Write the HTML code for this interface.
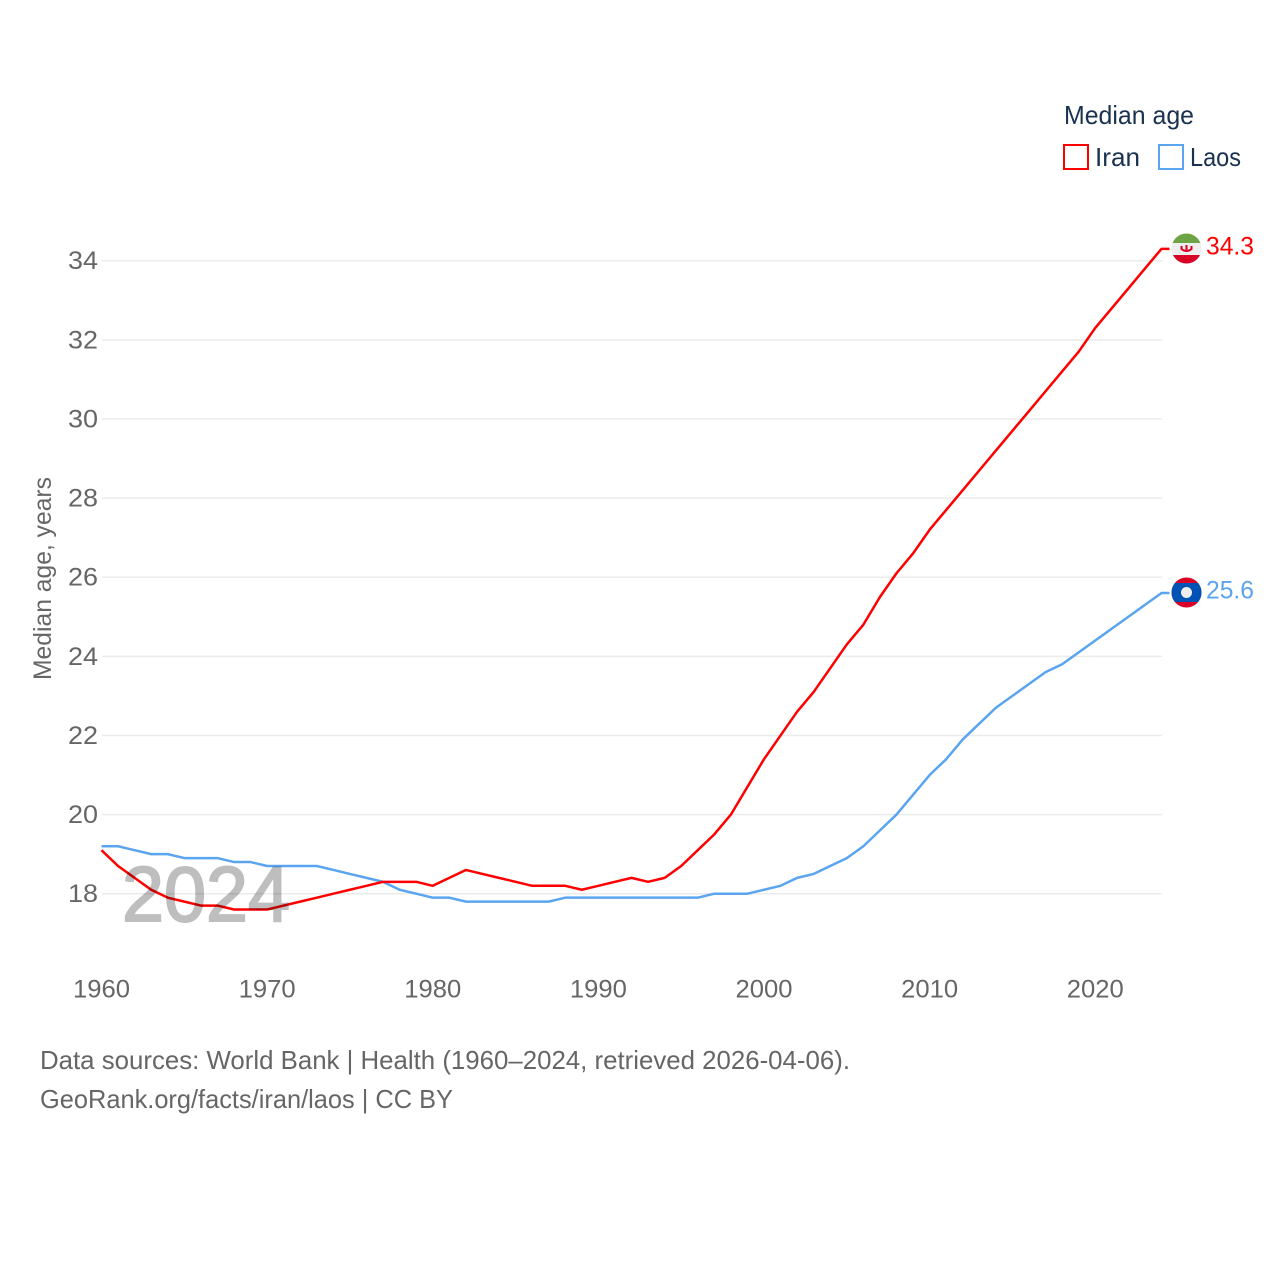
<!DOCTYPE html>
<html lang="en">
<head>
<meta charset="utf-8">
<title>Median age: Iran and Laos</title>
<style>
html,body{margin:0;padding:0;background:#fff;}
svg{display:block;}
text{font-family:"Liberation Sans",sans-serif;}
</style>
</head>
<body>
<svg id="chart" xmlns="http://www.w3.org/2000/svg" width="1280" height="1280" viewBox="0 0 1280 1280">
<g id="grid"></g>
<g id="ylabels"></g>
<g id="xlabels"></g>
<text transform="translate(51,680) rotate(-90)" font-size="25" fill="#666" textLength="203" lengthAdjust="spacingAndGlyphs">Median age, years</text>
<g id="series"></g>
<text x="206" y="921" font-size="78" text-anchor="middle" fill="#000" stroke="#000" stroke-width="2" opacity="0.25" textLength="168" lengthAdjust="spacingAndGlyphs">2024</text>
<g id="ends"></g>
<g>
<text x="1064" y="124" font-size="26" fill="#1a3250" textLength="130" lengthAdjust="spacingAndGlyphs">Median age</text>
<g>
<rect x="1064" y="145" width="24" height="24" fill="#fff" stroke="#ff0000" stroke-width="2"/>
<text x="1095" y="166" font-size="26" fill="#1a3250" textLength="45" lengthAdjust="spacingAndGlyphs">Iran</text>
</g>
<g>
<rect x="1159" y="145" width="24" height="24" fill="#fff" stroke="#5ba4f0" stroke-width="2"/>
<text x="1190" y="166" font-size="26" fill="#1a3250" textLength="51" lengthAdjust="spacingAndGlyphs">Laos</text>
</g>
</g>
<g>
<clipPath id="clipIran"><circle cx="1186.5" cy="248.5" r="15"/></clipPath>
<g clip-path="url(#clipIran)">
<rect x="1171" y="233" width="31" height="31" fill="#eeeeee"/>
<rect x="1171" y="233" width="31" height="10" fill="#6da544"/>
<rect x="1171" y="255" width="31" height="10" fill="#d80027"/>
<path d="M1181.5 246 v3 q5 4 10 0 v-3 M1186.5 245 v7" fill="none" stroke="#d80027" stroke-width="2"/>
</g>
</g>
<g>
<clipPath id="clipLaos"><circle cx="1186.5" cy="592.5" r="15"/></clipPath>
<g clip-path="url(#clipLaos)">
<rect x="1171" y="577" width="31" height="31" fill="#d80027"/>
<rect x="1171" y="583" width="31" height="19" fill="#0052b4"/>
<circle cx="1186.5" cy="592.5" r="5.5" fill="#eeeeee"/>
</g>
</g>
<text x="40" y="1069" font-size="26" fill="#666" textLength="810" lengthAdjust="spacingAndGlyphs">Data sources: World Bank | Health (1960–2024, retrieved 2026-04-06).</text>
<text x="40" y="1108" font-size="26" fill="#666" textLength="413" lengthAdjust="spacingAndGlyphs">GeoRank.org/facts/iran/laos | CC BY</text>
</svg>
<script>
const years = [1960,1961,1962,1963,1964,1965,1966,1967,1968,1969,1970,1971,1972,1973,1974,1975,1976,1977,1978,1979,1980,1981,1982,1983,1984,1985,1986,1987,1988,1989,1990,1991,1992,1993,1994,1995,1996,1997,1998,1999,2000,2001,2002,2003,2004,2005,2006,2007,2008,2009,2010,2011,2012,2013,2014,2015,2016,2017,2018,2019,2020,2021,2022,2023,2024];
const iran = [19.1,18.7,18.4,18.1,17.9,17.8,17.7,17.7,17.6,17.6,17.6,17.7,17.8,17.9,18.0,18.1,18.2,18.3,18.3,18.3,18.2,18.4,18.6,18.5,18.4,18.3,18.2,18.2,18.2,18.1,18.2,18.3,18.4,18.3,18.4,18.7,19.1,19.5,20.0,20.7,21.4,22.0,22.6,23.1,23.7,24.3,24.8,25.5,26.1,26.6,27.2,27.7,28.2,28.7,29.2,29.7,30.2,30.7,31.2,31.7,32.3,32.8,33.3,33.8,34.3];
const laos = [19.2,19.2,19.1,19.0,19.0,18.9,18.9,18.9,18.8,18.8,18.7,18.7,18.7,18.7,18.6,18.5,18.4,18.3,18.1,18.0,17.9,17.9,17.8,17.8,17.8,17.8,17.8,17.8,17.9,17.9,17.9,17.9,17.9,17.9,17.9,17.9,17.9,18.0,18.0,18.0,18.1,18.2,18.4,18.5,18.7,18.9,19.2,19.6,20.0,20.5,21.0,21.4,21.9,22.3,22.7,23.0,23.3,23.6,23.8,24.1,24.4,24.7,25.0,25.3,25.6];
const yTicks = [18,20,22,24,26,28,30,32,34];
const xTicks = [1960,1970,1980,1990,2000,2010,2020];

const NS = 'http://www.w3.org/2000/svg';
function xScale(year){ return 101.5 + (year - 1960) * (1060 / 64); }
function yScale(v){ return 893.7 - (v - 18) * (633 / 16); }
function make(tag, attrs, parent, content){
  const el = document.createElementNS(NS, tag);
  for (const k in attrs) el.setAttribute(k, attrs[k]);
  if (content !== undefined) el.textContent = content;
  parent.appendChild(el);
  return el;
}
const grid = document.getElementById('grid');
const ylabels = document.getElementById('ylabels');
const xlabels = document.getElementById('xlabels');
const seriesGroup = document.getElementById('series');
const ends = document.getElementById('ends');

yTicks.forEach(function(t){
  const line = make('line', {x1:102, x2:1162, y1:yScale(t), y2:yScale(t), stroke:'#ebebeb', 'stroke-width':1.5}, grid);
  
  
  const label = make('text', {x:98, y:yScale(t)+8.5, 'font-size':25, fill:'#666', 'text-anchor':'end', textLength:30, lengthAdjust:'spacingAndGlyphs'}, ylabels, String(t));
  
  
});
xTicks.forEach(function(t){
  const label = make('text', {x:xScale(t), y:997.5, 'font-size':25, fill:'#666', 'text-anchor':'middle', textLength:57, lengthAdjust:'spacingAndGlyphs'}, xlabels, String(t));
  
  
});
function drawSeries(values, color, name){
  const pts = values.map(function(v, i){ return xScale(years[i]).toFixed(2) + ',' + yScale(v).toFixed(2); });
  const last = values[values.length - 1];
  pts.push((xScale(years[years.length - 1]) + 8) + ',' + yScale(last).toFixed(2));
  const line = make('polyline', {points:pts.join(' '), fill:'none', stroke:color, 'stroke-width':2.5, 'stroke-linejoin':'round'}, seriesGroup);
  
  
}
function drawEnd(values, color, name, yOffset){
  const last = values[values.length - 1];
  const label = make('text', {x:1206, y:yScale(last)+yOffset, 'font-size':25, fill:color, textLength:48, lengthAdjust:'spacingAndGlyphs'}, ends, last.toFixed(1));
  
  
}
drawSeries(laos, '#5ba4f0', 'laos');
drawSeries(iran, '#ff0000', 'iran');
drawEnd(iran, '#ff0000', 'iran', 5.5);
drawEnd(laos, '#5ba4f0', 'laos', 5.5);
</script>
</body>
</html>
